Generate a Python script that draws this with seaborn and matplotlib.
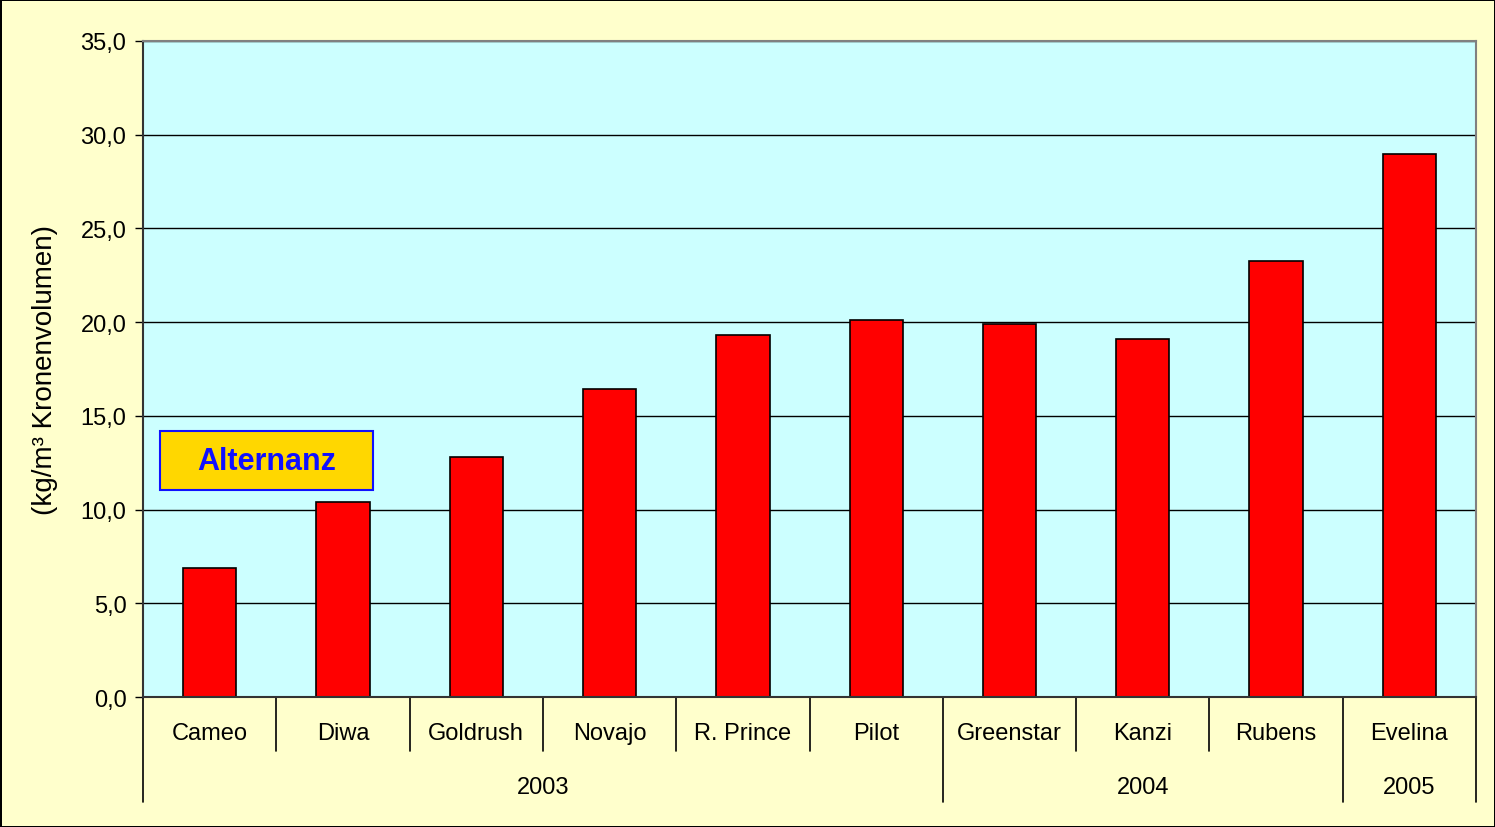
import numpy as np
import pandas as pd
import matplotlib.pyplot as plt
import matplotlib.patches as mpatches
import seaborn as sns

# Daten
sorten = ['Cameo', 'Diwa', 'Goldrush', 'Novajo', 'R. Prince', 'Pilot',
          'Greenstar', 'Kanzi', 'Rubens', 'Evelina']
jahr = ['2003', '2003', '2003', '2003', '2003', '2003',
        '2004', '2004', '2004', '2005']
werte = [6.9, 10.4, 12.8, 16.45, 19.3, 20.1, 19.9, 19.1, 23.25, 28.95]
y_ticks = [0, 5, 10, 15, 20, 25, 30, 35]

df = pd.DataFrame({'Sorte': sorten, 'Jahr': jahr, 'Wert': werte})

sns.set_style('white')
plt.rcParams['font.family'] = ['Liberation Sans', 'DejaVu Sans']
plt.rcParams['text.color'] = 'black'
plt.rcParams['axes.labelcolor'] = 'black'
plt.rcParams['xtick.color'] = 'black'
plt.rcParams['ytick.color'] = 'black'

fig = plt.figure(figsize=(14.95, 8.28), dpi=100)
fig.patch.set_facecolor('#FFFFCC')
fig.patch.set_edgecolor('black')
fig.patch.set_linewidth(2)
ax = fig.add_axes([0.0957, 0.157, 0.8916, 0.7923])
ax.set_facecolor('#CCFFFF')

sns.barplot(data=df, x='Sorte', y='Wert', color='red', saturation=1,
            edgecolor='black', linewidth=1.2, width=0.4, ax=ax)

# Achsen
ax.set_ylim(0, 35)
ax.set_xlim(-0.5, len(sorten) - 0.5)
ax.set_yticks(y_ticks)
ax.set_yticklabels([f'{t:.1f}'.replace('.', ',') for t in y_ticks], fontsize=17)
ax.yaxis.grid(True, color='black', linewidth=1)
ax.set_axisbelow(True)
ax.tick_params(axis='y', length=6, width=1, color='black', left=True, pad=6)
ax.tick_params(axis='x', length=0, pad=18, labelsize=17)
ax.set_xlabel('')
ax.set_ylabel('(kg/m³ Kronenvolumen)', fontsize=20, labelpad=16)

for s in ['top', 'right']:
    ax.spines[s].set_color('#808080')
    ax.spines[s].set_linewidth(1.5)
for s in ['left', 'bottom']:
    ax.spines[s].set_color('#333333')
    ax.spines[s].set_linewidth(1.5)

# Trennlinien der Kategorien und Jahre
trans = ax.get_xaxis_transform()
for i in range(len(sorten) + 1):
    pos = i - 0.5
    if i == 0 or i == len(sorten) or jahr[i] != jahr[i - 1]:
        tief = -0.160
    else:
        tief = -0.0823
    ax.plot([pos, pos], [0, tief], transform=trans, color='black',
            linewidth=1.2, clip_on=False)

# Jahresbeschriftung
for j in sorted(set(jahr)):
    idx = [k for k, v in enumerate(jahr) if v == j]
    ax.text(np.mean(idx), -0.137, j, transform=trans, ha='center', va='center',
            fontsize=17)

# Hinweisbox
ax.add_patch(mpatches.Rectangle((0.01275, 0.3155), 0.1598, 0.0899,
                                transform=ax.transAxes, facecolor='#FFD700',
                                edgecolor='#1010FF', linewidth=1.5, zorder=5))
ax.text(0.0926, 0.3605, 'Alternanz', transform=ax.transAxes, ha='center',
        va='center', fontsize=22, fontweight='bold', color='#1010FF', zorder=6)

fig.savefig('out.png', dpi=100, facecolor=fig.get_facecolor(),
            edgecolor=fig.get_edgecolor())
